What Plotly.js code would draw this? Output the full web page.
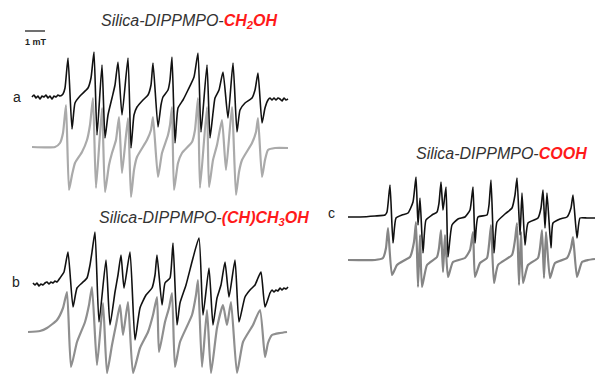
<!DOCTYPE html>
<html><head><meta charset="utf-8">
<script src="https://cdn.plot.ly/plotly-3.0.1.min.js"></script>
<style>html,body{margin:0;padding:0;background:#fff}#chart{width:595px;height:380px}</style>
</head><body><div id="chart"></div>
<script>
// Field (mT, relative to sweep start) and intensity (a.u.)
const aExpField = [0.2,0.3,0.4,0.5,0.6,0.7,0.8,0.9,1.0,1.1,1.2,1.3,1.4,1.5,1.6,1.75,1.85,2.0,2.2,2.35,2.6,3.0,3.15,3.3,3.45,3.7,3.85,4.0,4.2,4.35,4.5,4.7,5.0,5.15,5.3,5.45,5.75,6.0,6.15,6.25,6.5,6.65,6.75,7.0,7.1,7.2,7.35,7.5,7.75,8.0,8.3,8.5,8.65,8.95,9.1,9.25,9.35,9.55,9.75,10.0,10.25,10.45,10.6,10.85,11.2,11.35,11.5,11.7,11.85,12.0,12.1,12.2,12.3,12.4,12.5,12.6,12.7,12.8,12.9,13.0];
const aExpInt   = [0,2,-1,1,-2,1,0,2,-1,1,-2,1,0,2,1,3,9,39,-32,-6,1,9,19,45,-38,32,-41,-18,-1,12,35,-18,39,-51,-18,-10,-3,2,12,34,-30,-8,0,7,17,40,-46,-11,-3,7,20,44,-35,32,-41,-16,-1,7,25,-21,34,-35,-13,-6,-1,7,24,-26,-11,-3,-1,-3,-1,-3,-1,-2,-4,-1,-3,-2];
const aSimField = [0.2,1.35,1.6,1.75,1.9,2.05,2.2,2.35,2.7,2.95,3.1,3.25,3.4,3.7,3.85,4.05,4.2,4.4,4.55,4.7,5.0,5.15,5.3,5.45,5.95,6.15,6.25,6.5,6.7,7.0,7.1,7.2,7.3,7.5,7.7,8.2,8.35,8.5,8.6,8.95,9.05,9.25,9.45,9.7,9.9,10.2,10.4,10.55,10.7,11.2,11.4,11.5,11.7,11.85,12.0,12.35,13.0];
const aSimInt   = [-50,-50,-46,-36,-8,-93,-78,-66,-55,-43,-28,-1,-91,-11,-95,-68,-56,-43,-20,-76,-21,-100,-73,-60,-43,-33,-20,-80,-56,-38,-28,-10,-93,-66,-56,-45,-33,-1,-91,-10,-90,-63,-48,-23,-73,-10,-98,-75,-63,-46,-35,-21,-80,-63,-53,-51,-51];

const bExpField = [0.25,0.35,0.45,0.55,0.65,0.75,0.85,0.95,1.05,1.15,1.25,1.35,1.45,1.6,1.8,2.0,2.25,2.45,2.7,2.95,3.1,3.2,3.35,3.55,3.9,4.1,4.35,4.5,4.65,4.8,5.1,5.35,5.6,5.9,6.2,6.35,6.45,6.7,6.85,7.1,7.25,7.45,7.6,7.9,8.25,8.55,8.75,9.05,9.25,9.45,9.65,9.85,10.05,10.35,10.55,10.85,11.1,11.35,11.5,11.65,11.85,12.1,12.2,12.3,12.4,12.5,12.6,12.7,12.8,12.9,13.0];
const bExpInt   = [0,-2,0,-3,-1,-2,0,1,-1,1,0,2,1,5,11,31,-24,-5,0,5,18,31,51,-39,23,-42,-9,8,28,-5,31,-57,-25,-12,-5,8,28,-22,0,5,40,-42,-20,-2,25,45,-32,15,-42,-15,-2,21,-14,23,-39,-14,-7,-2,5,11,-24,-10,-7,-9,-7,-8,-5,-7,-5,-6,-4];
const bSimField = [0,0.6,0.95,1.45,1.75,1.95,2.15,2.45,2.85,3.05,3.2,3.45,3.75,3.95,4.2,4.4,4.6,4.75,5.0,5.25,5.6,6.0,6.25,6.45,6.55,6.85,7.05,7.2,7.35,7.6,8.2,8.4,8.5,8.7,8.95,9.15,9.45,9.75,9.95,10.15,10.45,10.75,11.25,11.6,11.85,12.0,12.2,12.6,12.95];
const bSimInt   = [-49,-48,-45,-37,-25,-9,-84,-59,-39,-22,-4,-82,-20,-90,-62,-42,-22,-52,-19,-90,-65,-49,-32,-14,-69,-39,-25,-10,-84,-59,-32,-12,3,-84,-27,-90,-45,-22,-42,-19,-90,-59,-42,-27,-74,-60,-52,-50,-49];

const cExpField = [0,0.6,1.35,1.85,1.95,2.1,2.25,2.4,2.7,3.0,3.25,3.4,3.5,3.6,3.75,3.9,4.2,4.45,4.55,4.65,4.75,4.9,5.0,5.2,5.5,5.85,6.1,6.25,6.35,6.5,6.95,7.05,7.15,7.3,7.45,7.85,8.2,8.35,8.45,8.6,8.7,8.85,9.0,9.5,9.65,9.75,9.85,9.95,10.15,10.25,10.6,10.95,11.15,11.25,11.45,11.6,11.95,12.35];
const cExpInt   = [0,0,1,2,5,32,-26,-1,2,4,15,40,-8,19,-36,-3,2,5,14,35,7,30,-40,-8,-2,0,7,30,-26,0,2,12,37,-36,-5,3,9,22,39,-18,24,-28,-6,-1,9,27,-11,24,-31,-6,-2,0,9,22,-21,-1,-1,-1];
const cSimField = [0,1.35,1.75,1.9,2.0,2.2,2.45,2.85,3.1,3.3,3.4,3.5,3.6,3.7,3.95,4.45,4.55,4.65,4.75,4.85,5.0,5.25,5.85,6.1,6.25,6.35,6.6,6.95,7.05,7.15,7.3,7.5,8.2,8.35,8.45,8.55,8.65,8.75,9.0,9.5,9.6,9.7,9.8,9.9,10.1,10.35,10.95,11.15,11.25,11.45,11.7,12.0,12.35];
const cSimInt   = [-43,-43,-41,-31,-11,-58,-48,-43,-40,-25,-5,-70,-18,-70,-48,-40,-31,-13,-55,-18,-60,-45,-41,-33,-15,-60,-46,-41,-28,-8,-66,-48,-38,-23,-6,-68,-15,-66,-48,-41,-31,-13,-61,-15,-61,-46,-41,-31,-20,-60,-45,-43,-42];

const panelLabels = ['a','b','c'];
const titleBase = 'Silica-DIPPMPO-';
const titleGroups = ['CH<sub>2</sub>OH','(CH)CH<sub>3</sub>OH','COOH'];
const scaleLabel = '1 mT';

const expLine = {color:'#111', width:1.6, shape:'spline', smoothing:0.5};
function tr(x, y, xa, ya, line){
  return {x:x, y:y, xaxis:xa, yaxis:ya, type:'scatter', mode:'lines', line:line, hoverinfo:'skip', showlegend:false};
}
const data = [
  tr(aSimField, aSimInt, 'x','y', {color:'#aaaaaa', width:2.2, shape:'spline', smoothing:0.5}),
  tr(aExpField, aExpInt, 'x','y', expLine),
  tr(bSimField, bSimInt, 'x2','y2', {color:'#8f8f8f', width:2.2, shape:'spline', smoothing:0.5}),
  tr(bExpField, bExpInt, 'x2','y2', expLine),
  tr(cSimField, cSimInt, 'x3','y3', {color:'#858585', width:2.2, shape:'spline', smoothing:0.5}),
  tr(cExpField, cExpInt, 'x3','y3', expLine)
];
const hid = {visible:false, fixedrange:true};
const W = 595, H = 380;
const px = v => v / W, py = v => 1 - v / H;
function ttl(i){
  return '<i>' + titleBase + '</i><b><i><span style="color:#ff1a1a">' + titleGroups[i] + '</span></i></b>';
}
const tfont = {family:'Liberation Sans, Arial, sans-serif', size:16, color:'#333'};
const lfont = {family:'Liberation Sans, Arial, sans-serif', size:14, color:'#222'};
function ann(x, y, text, font){
  return {xref:'paper', yref:'paper', x:px(x), y:py(y), xanchor:'center', yanchor:'middle', text:text, showarrow:false, font:font};
}
const layout = {
  width:W, height:H, margin:{l:0,r:0,t:0,b:0}, paper_bgcolor:'#fff', plot_bgcolor:'rgba(0,0,0,0)',
  xaxis: Object.assign({domain:[px(20), px(293)], range:[-0.4, 13.25], anchor:'y'}, hid),
  yaxis: Object.assign({domain:[py(200), py(20)], range:[-103, 77], anchor:'x'}, hid),
  xaxis2: Object.assign({domain:[px(20), px(293)], range:[-0.4, 13.25], anchor:'y2'}, hid),
  yaxis2: Object.assign({domain:[py(378), py(225)], range:[-95, 58], anchor:'x2'}, hid),
  xaxis3: Object.assign({domain:[px(340), 1], range:[-0.4, 12.35], anchor:'y3'}, hid),
  yaxis3: Object.assign({domain:[py(295), py(165)], range:[-78, 52], anchor:'x3'}, hid),
  shapes: [
    {type:'line', xref:'x', yref:'y', x0:-0.15, x1:0.85, y0:66, y1:66, line:{color:'#111', width:1.2}}
  ],
  annotations: [
    {xref:'x', yref:'y', x:0.4, y:55, xanchor:'center', yanchor:'middle', text:'<b>'+scaleLabel+'</b>', showarrow:false, font:{family:'Liberation Sans, Arial, sans-serif', size:9, color:'#222'}},
    ann(189, 22, ttl(0), tfont),
    ann(204, 218, ttl(1), tfont),
    ann(501, 153, ttl(2), tfont),
    ann(16.5, 97, panelLabels[0], lfont),
    ann(16, 282, panelLabels[1], lfont),
    ann(331, 213, panelLabels[2], lfont)
  ]
};
Plotly.newPlot('chart', data, layout, {staticPlot:true, displayModeBar:false});
</script></body></html>
